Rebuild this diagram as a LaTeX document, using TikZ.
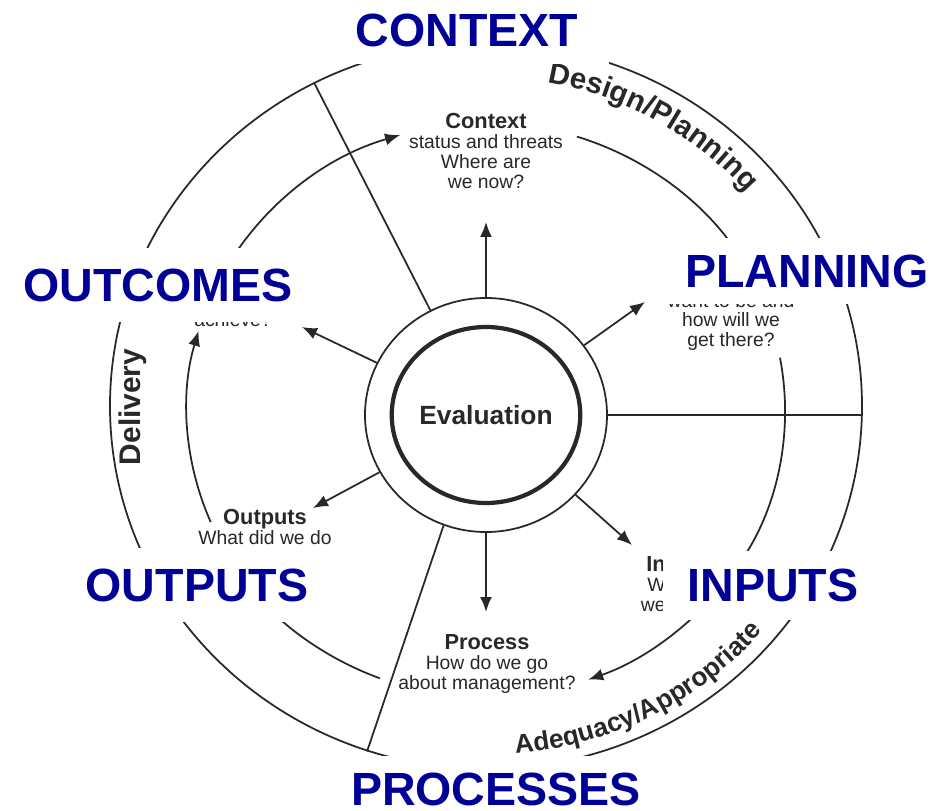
\documentclass[tikz,border=0pt]{standalone}
\usepackage{fontspec}
\setmainfont{Liberation Sans}
\usetikzlibrary{arrows.meta,positioning,shapes.geometric,decorations.text}
\definecolor{navy}{RGB}{0,0,150}
\definecolor{ink}{RGB}{40,40,40}
\newcommand{\head}[1]{{\bfseries\fontsize{12.4}{11.3}\selectfont #1}}

\tikzset{
  banner/.style={fill=white,text=navy,inner sep=0pt,font=\bfseries\fontsize{26.5}{26.5}\selectfont},
  blurb/.style={align=center,text=ink,inner sep=0pt,font=\fontsize{11}{11.3}\selectfont},
  rimline/.style={draw=ink,line width=1pt},
  flow/.style={draw=ink,line width=1pt,-{Latex[length=3mm,width=2.4mm]}}
}

\begin{document}
\begin{tikzpicture}
\fill[white] (-9.72,-8.02) rectangle (9.18,8.2);
\useasboundingbox (-9.72,-8.02) rectangle (9.18,8.2);

\node[ellipse,rimline,minimum width=15.04cm,minimum height=14.52cm,inner sep=0pt] (rim) at (0,0.08) {};
\node[ellipse,rimline,minimum width=4.84cm,minimum height=4.68cm,inner sep=0pt] (ring) at (0,-0.1) {};
\node[ellipse,draw=ink,line width=2.4pt,minimum width=3.62cm,minimum height=3.52cm,inner sep=0pt,
      text=ink,font=\bfseries\fontsize{15}{15}\selectfont] (core) at (0,-0.1) {Evaluation};

\draw[rimline] (ring.118) -- (rim.118);
\draw[rimline] (ring.0) -- (ring.0 -| rim.east);
\draw[rimline] (ring.249) -- (rim.251);

\foreach \a/\b in {72.3/26,10.5/-36,-38/-70,-110.8/-145,-157/-196,153/106.7}
  \draw[flow] (\a:5.98 and 5.74) arc[start angle=\a,end angle=\b,x radius=5.98,y radius=5.74];

\coordinate (tctx) at (0,3.76);
\coordinate (tplan) at (3.18,2.16);
\coordinate (tinp) at (2.92,-2.7);
\coordinate (tproc) at (0,-4.04);
\coordinate (toutp) at (-3.46,-1.96);
\coordinate (toutc) at (-3.68,1.66);

\begin{scope}[every edge/.style={flow}]
    \path (ring) edge (tctx);
    \path (ring) edge (tplan);
    \path (ring) edge (tinp);
    \path (ring) edge (tproc);
    \path (ring) edge (toutp);
    \path (ring) edge (toutc);
\end{scope}

\node[blurb] (ctx) at (0,5.18) {\head{Context}\\status and threats\\Where are\\we now?};
\node[blurb] (plan) at (4.9,1.76) {want to be and\\how will we\\get there?};
\node[blurb] (outc) at (-5.06,1.8) {achieve?};
\node[blurb] (outp) at (-4.42,-2.34) {\head{Outputs}\\What did we do};
\node[blurb] (proc) at (0.02,-5.08) {\head{Process}\\How do we go\\about management?};
\node[blurb,align=right,anchor=east] (inp) at (3.6,-3.48) {\head{In}\\W\\we};
\node[rotate=90,text=ink,font=\bfseries\fontsize{17}{17}\selectfont] (dlv) at (-7.06,0.06) {Delivery};

\path[decorate,decoration={text along path,
      text={|\bfseries\fontsize{16.8}{16.8}\selectfont\color{ink}|Design/Planning}}]
  (0,0.08) ++(79.6:6.84 and 6.58) arc[start angle=79.6,end angle=20,x radius=6.84,y radius=6.58];
\path[decorate,decoration={text along path,
      text={|\bfseries\fontsize{15}{15}\selectfont\color{ink}|Adequacy/Appropriate}}]
  (0,0.08) ++(-85.3:7.24 and 6.98) arc[start angle=-85.3,end angle=-20,x radius=7.24,y radius=6.98];

\node[banner,minimum width=5.7cm,minimum height=1.36cm] (bctx) at (-0.38,7.6) {CONTEXT};
\node[banner,minimum width=5.76cm,minimum height=1.32cm] (bplan) at (6.42,2.78) {PLANNING};
\node[banner,minimum width=8.08cm,minimum height=1.48cm] (boutc) at (-6.56,2.5) {OUTCOMES};
\node[banner,minimum width=6.12cm,minimum height=1.48cm] (boutp) at (-5.78,-3.5) {OUTPUTS};
\node[banner,minimum width=4.4cm,minimum height=1.38cm] (binp) at (5.74,-3.5) {INPUTS};
\node[banner,minimum width=6.24cm,minimum height=1.32cm] (bproc) at (0.2,-7.58) {PROCESSES};
\end{tikzpicture}
\end{document}
